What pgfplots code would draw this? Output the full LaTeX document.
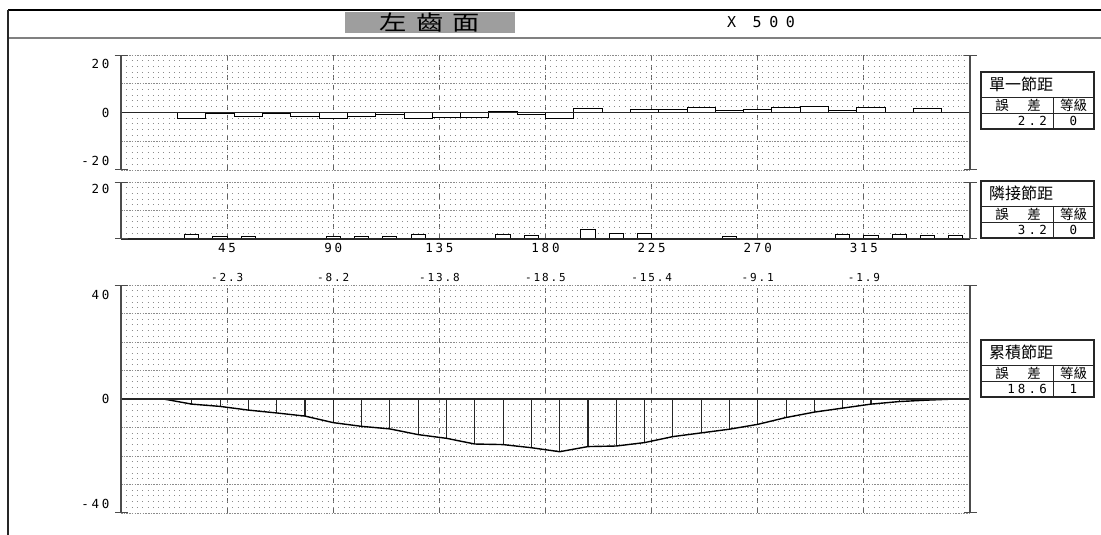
\documentclass[border=0pt]{standalone}
\usepackage{pgfplots}
\pgfplotsset{compat=1.18}
\usepackage{pgfplotstable}
\usepackage{fontspec}
\usetikzlibrary{arrows.meta}
\setmainfont{DejaVu Sans Mono}
\newfontfamily\cjk{Noto Sans CJK TC}
\newfontfamily\tickfont[LetterSpace=22]{DejaVu Sans Mono}
\newfontfamily\cumfont[LetterSpace=17]{DejaVu Sans Mono}
\newfontfamily\widefont[LetterSpace=50]{DejaVu Sans Mono}
\newfontfamily\boxfont[LetterSpace=25]{DejaVu Sans Mono}

% single pitch deviation (tooth centre, value)
\pgfplotstableread{
x y
6 0
18 0
30 -2.0
42 -0.5
54 -1.4
66 -0.3
78 -1.4
90 -2.0
102 -1.4
114 -0.6
126 -2.0
138 -1.6
150 -1.8
162 0.3
174 -0.6
186 -2.1
198 1.3
210 0
222 1.2
234 1.2
246 1.7
258 0.8
270 1.2
282 1.7
294 2.2
306 0.7
318 1.7
330 0
342 1.3
354 0
}\singletab

% adjacent pitch deviation
\pgfplotstableread{
x y
18 0.3
30 1.4
42 0.9
54 0.9
66 0.3
78 0.3
90 0.9
102 0.9
114 0.9
126 1.4
138 0.3
150 0
162 1.4
174 1.1
186 0.3
198 3.2
210 2.0
222 2.0
234 0
246 0
258 0.8
270 0.3
282 0.3
294 0
306 1.6
318 1.2
330 1.6
342 1.2
354 1.2
}\adjtab

% cumulative pitch deviation
\pgfplotstableread{
x y
0 0
6 0
18 0
30 -1.8
42 -2.6
54 -3.9
66 -4.9
78 -6.0
90 -8.3
102 -9.6
114 -10.5
126 -12.5
138 -13.8
150 -15.8
162 -16.0
174 -17.1
186 -18.5
198 -16.7
210 -16.5
222 -15.3
234 -13.2
246 -11.9
258 -10.6
270 -8.9
282 -6.5
294 -4.6
306 -3.2
318 -1.8
330 -0.9
342 -0.4
354 0
360 0
}\cumtab

\tikzset{capline/.style={black!70, line width=1.3bp, {Bar[width=13bp]}-{Bar[width=13bp]}}}

\pgfplotsset{
  gearpanel/.style={
    scale only axis, width=849bp,
    xmin=0, xmax=360,
    anchor=north west,
    axis line style={draw=none},
    major tick length=0pt, minor tick length=0pt,
    xtick={45,90,...,315},
    xticklabels={},
    xmajorgrids=true,
    major grid style={black!62, line width=0.9bp, dash pattern=on 5bp off 5bp},
    yminorgrids=true,
    minor grid style={black!45, line width=1bp, dash pattern=on 0.9bp off 4.4bp},
    yticklabel style={font=\fontsize{12.5bp}{14bp}\tickfont, xshift=-8bp, text=black},
    extra y tick labels={},
    extra y tick style={grid=major, major grid style={black!45, line width=0.7bp, dash pattern=on 1.5bp off 1.2bp}},
    clip=false,
  },
}

\newcommand\infobox[4]{%
  \draw[line width=1.4bp, black!85] (981,#1) rectangle (1094,{#1-57});
  \draw[line width=0.8bp, black!85] (981,{#1-25}) -- (1094,{#1-25});
  \draw[line width=0.8bp, black!85] (981,{#1-41}) -- (1094,{#1-41});
  \draw[line width=0.8bp, black!85] (1053,{#1-25}) -- (1053,{#1-57});
  \node[anchor=west, inner sep=0pt] at (989,{#1-12.5}) {\fontsize{16bp}{18bp}\cjk #2};
  \node[inner sep=0pt] at (1002,{#1-33}) {\fontsize{13.5bp}{15bp}\cjk 誤};
  \node[inner sep=0pt] at (1034,{#1-33}) {\fontsize{13.5bp}{15bp}\cjk 差};
  \node[inner sep=0pt] at (1073.5,{#1-33}) {\fontsize{13.5bp}{15bp}\cjk 等級};
  \node[anchor=east, inner sep=0pt] at (1047,{#1-49}) {\fontsize{12.5bp}{14bp}\boxfont #3};
  \node[inner sep=0pt] at (1073.5,{#1-49}) {\fontsize{12.5bp}{14bp}\boxfont #4};
}

\begin{document}
\begin{tikzpicture}[x=1bp,y=1bp]
\path[use as bounding box, fill=white] (0,0) rectangle (1101,535);

% header frame
\draw[black, line width=2.5bp] (8,525) -- (1101,525);
\draw[black!50, line width=1.5bp] (8,497) -- (1101,497);
\draw[black!85, line width=1.5bp] (8,525) -- (8,0);
\fill[black!38] (345,502) rectangle (515,523);
\node at (430,512.5) {\scalebox{1.3}[1]{\fontsize{21bp}{22bp}\cjk 左\hspace{7bp}齒\hspace{7bp}面}};
\node at (761,512.5) {\fontsize{15bp}{16bp}\widefont X 500};

% single pitch
\begin{axis}[gearpanel, at={(121bp,480bp)}, height=115bp,
  ymin=-20, ymax=20,
  ytick={-16.7,0,17}, yticklabels={-20,0,20},
  extra y ticks={-20,-10,10,20},
  minor ytick={-18,-16,-14,-12,-8,-6,-4,-2,2,4,6,8,12,14,16,18}]
\addplot[ybar, bar width=12, bar shift=0pt, draw=black, fill=white, line width=1bp] table[x=x,y=y] {\singletab};
\addplot[black!85, line width=1.3bp] coordinates {(0,0) (360,0)};
\draw[capline] (rel axis cs:0,0) -- (rel axis cs:0,1);
\draw[capline] (rel axis cs:1,0) -- (rel axis cs:1,1);
\end{axis}

% adjacent pitch
\begin{axis}[gearpanel, at={(121bp,353bp)}, height=57bp,
  ymin=0, ymax=20,
  ytick={17.5}, yticklabels={20},
  extra y ticks={10,20},
  minor ytick={2,4,6,8,12,14,16,18},
  xticklabels={45,90,135,180,225,270,315},
  xticklabel style={font=\fontsize{12.5bp}{14bp}\tickfont, yshift=-1.2bp, text=black}]
\addplot[ybar, bar width=6, bar shift=0pt, draw=black, fill=white, line width=1bp] table[x=x,y=y] {\adjtab};
\addplot[black!85, line width=1.3bp] coordinates {(0,0) (360,0)};
\draw[capline] (rel axis cs:0,0) -- (rel axis cs:0,1);
\draw[capline] (rel axis cs:1,0) -- (rel axis cs:1,1);
\end{axis}

% cumulative pitch
\begin{axis}[gearpanel, at={(121bp,250bp)}, height=228bp,
  ymin=-40, ymax=40,
  ytick={-36.8,0,36.5}, yticklabels={-40,0,40},
  extra y ticks={-40,-30,-20,-10,10,20,30,40},
  minor ytick={-38,-36,-34,-32,-28,-26,-24,-22,-18,-16,-14,-12,-8,-6,-4,-2,2,4,6,8,12,14,16,18,22,24,26,28,32,34,36,38},
  xtick pos=both, xticklabel pos=right,
  xticklabels={-2.3,-8.2,-13.8,-18.5,-15.4,-9.1,-1.9},
  xticklabel style={font=\fontsize{11bp}{12bp}\cumfont, yshift=0bp, text=black}]
\addplot[ycomb, black!85, line width=1.1bp] table[x=x,y=y] {\cumtab};
\addplot[black, line width=1.4bp] table[x=x,y=y] {\cumtab};
\addplot[black!85, line width=1.3bp] coordinates {(0,0) (360,0)};
\draw[capline] (rel axis cs:0,0) -- (rel axis cs:0,1);
\draw[capline] (rel axis cs:1,0) -- (rel axis cs:1,1);
\end{axis}

% result boxes
\infobox{463}{單一節距}{2.2}{0}
\infobox{354}{隣接節距}{3.2}{0}
\infobox{195}{累積節距}{18.6}{1}
\end{tikzpicture}
\end{document}
